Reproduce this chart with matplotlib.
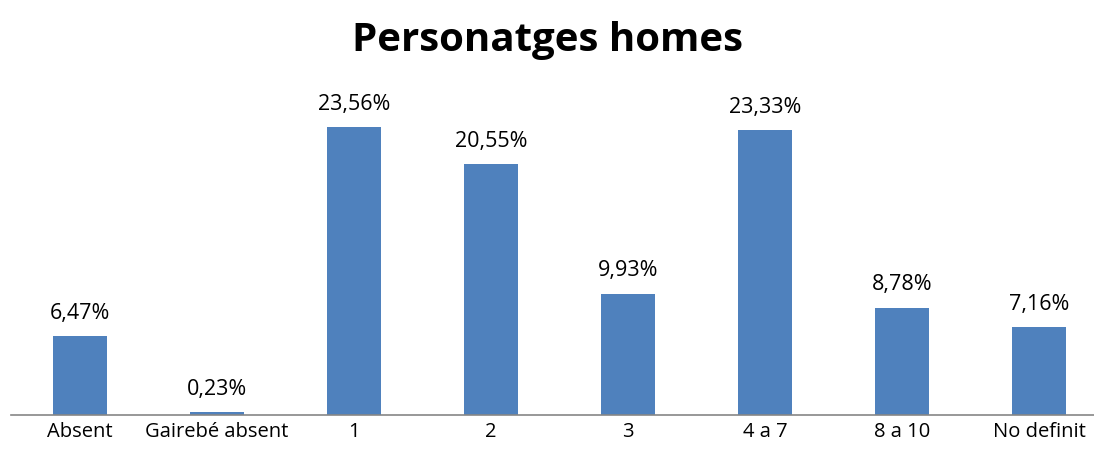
import numpy as np
from matplotlib import pyplot as plt

# Personatges homes - percentage per category
categories = ["Absent", "Gairebé absent", "1", "2", "3", "4 a 7", "8 a 10", "No definit"]
values = [6.47, 0.23, 23.56, 20.55, 9.93, 23.33, 8.78, 7.16]
labels = ["6,47%", "0,23%", "23,56%", "20,55%", "9,93%", "23,33%", "8,78%", "7,16%"]

plt.rcParams['font.family'] = ['Open Sans', 'DejaVu Sans']

fig = plt.figure(figsize=(10.94, 4.51), dpi=100)
ax = fig.add_axes([0.0105, 0.0798, 1.0018, 0.7317])

x = np.arange(len(categories))
ax.bar(x, values, width=0.4, color='#4f81bd')
for xi, v, t in zip(x, values, labels):
    ax.text(xi, v + 1.0, t, ha='center', va='bottom', fontsize=15.5)

ax.set_xlim(-0.5, len(categories) - 0.5)
ax.set_ylim(0, 27)
ax.set_xticks(x)
ax.set_xticklabels(categories, fontsize=14.5)
ax.tick_params(axis='x', length=0, pad=5)
ax.set_yticks([])
for s in ['top', 'right', 'left']:
    ax.spines[s].set_visible(False)
ax.spines['bottom'].set_color('#868686')
ax.spines['bottom'].set_linewidth(1.2)

fig.text(0.5, 0.91, "Personatges homes", ha='center', va='center',
         fontsize=29, fontweight='bold')

plt.savefig("out.png", dpi=100)
